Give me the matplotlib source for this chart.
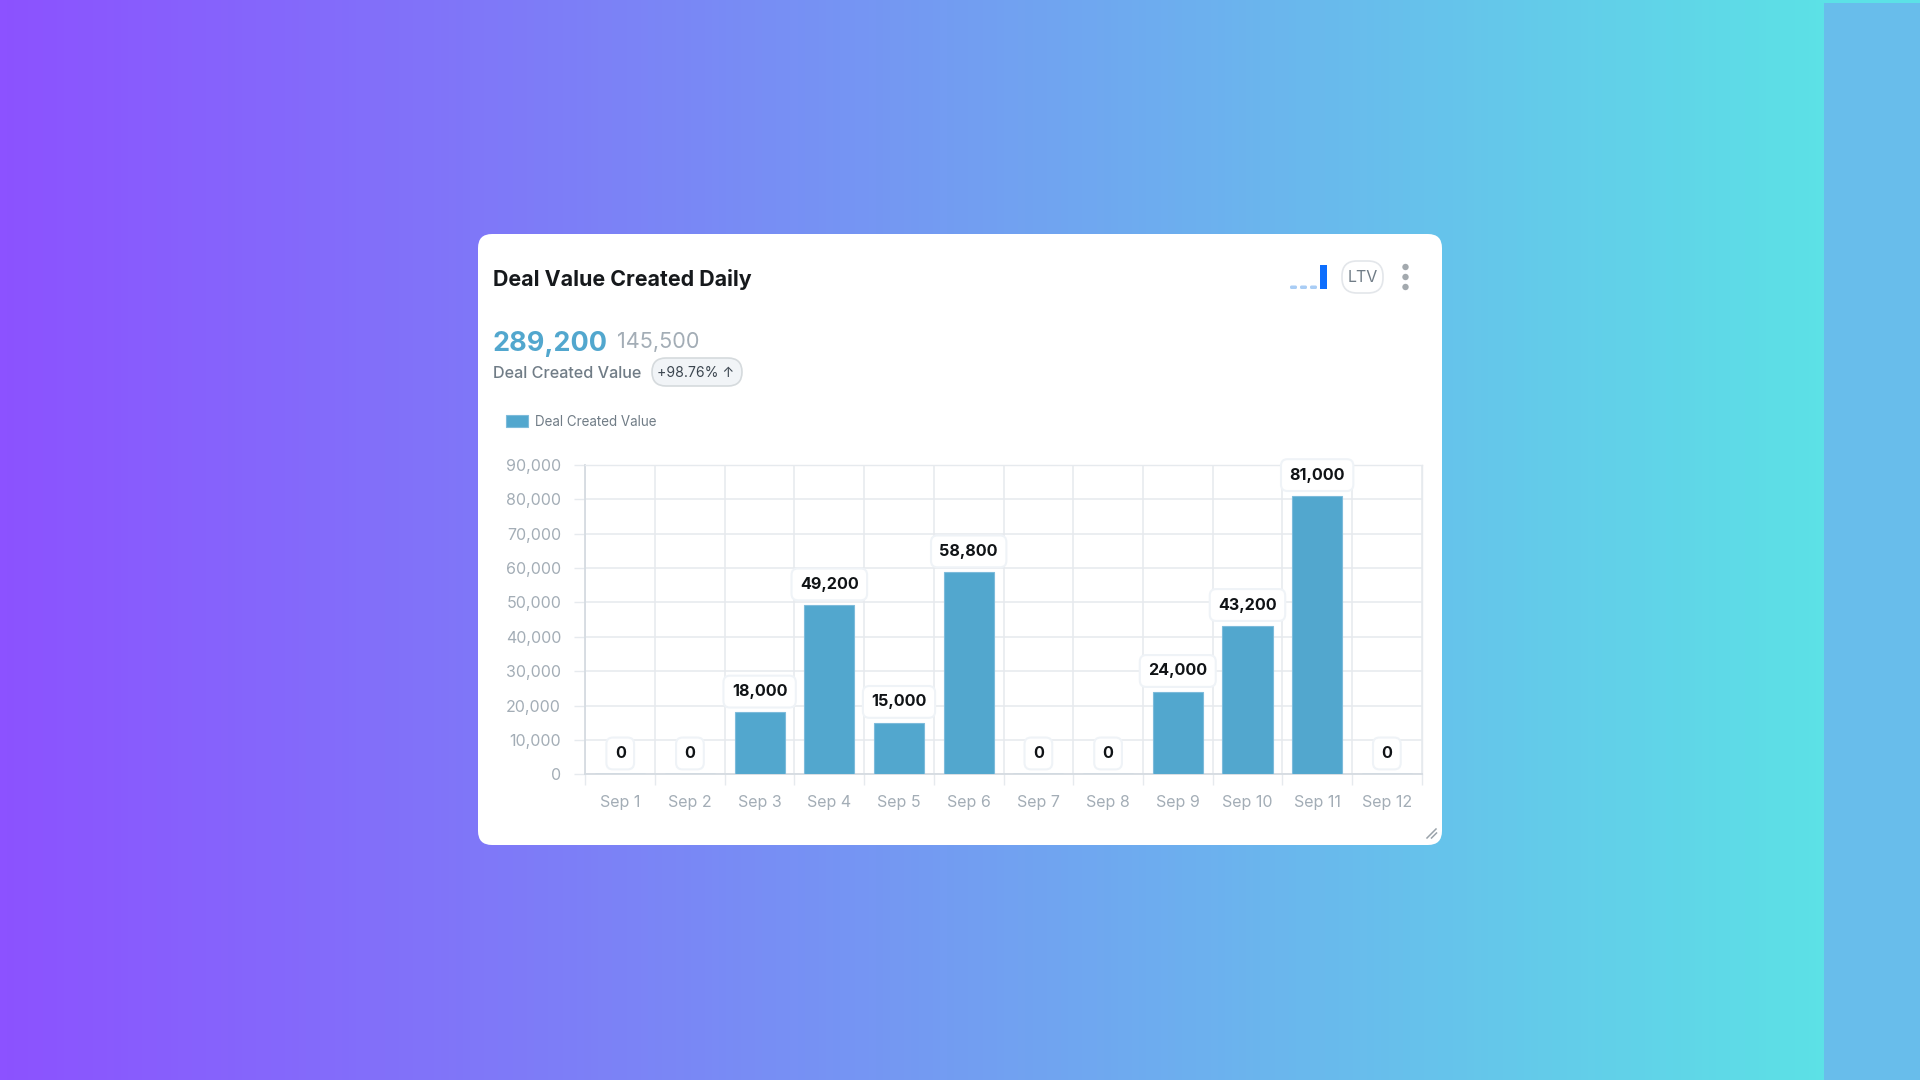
import numpy as np
import matplotlib.pyplot as plt
from matplotlib.colors import LinearSegmentedColormap
from matplotlib.patches import FancyBboxPatch, Rectangle, Circle

plt.rcParams['font.family'] = ['Inter', 'DejaVu Sans']

days = ['Sep 1', 'Sep 2', 'Sep 3', 'Sep 4', 'Sep 5', 'Sep 6',
        'Sep 7', 'Sep 8', 'Sep 9', 'Sep 10', 'Sep 11', 'Sep 12']
deal_values = [0, 0, 18000, 49200, 15000, 58800, 0, 0, 24000, 43200, 81000, 0]
y_ticks = list(range(0, 90001, 10000))

title = 'Deal Value Created Daily'
series_name = 'Deal Created Value'
total_now = '289,200'
total_before = '145,500'
change = '+98.76% ↑'
period = 'LTV'

BAR = '#52A7CE'
GRID = '#E6EAEE'
AXIS = '#D5DBE1'
MUTED = '#A3ADB6'
SLATE = '#707C86'
W, H = 1920, 1080


def px(size):
    # css pixels to points at 100 dpi
    return size * 0.72


fig = plt.figure(figsize=(19.2, 10.8), dpi=100)

# full-figure layer in pixel coordinates for everything around the chart
bg = fig.add_axes([0, 0, 1, 1])
bg.set_xlim(0, W)
bg.set_ylim(H, 0)
bg.axis('off')

cmap = LinearSegmentedColormap.from_list('bg', ['#8C52FF', '#5CE1E6'])
bg.imshow(np.linspace(0, 1, 512).reshape(1, -1), cmap=cmap, aspect='auto',
          extent=(0, 1823, H, 0), zorder=0)
bg.add_patch(Rectangle((1823, 0), W - 1823, H, fc='#5CE1E6', ec='none', zorder=0))
bg.add_patch(Rectangle((1824, 3), W - 1824, H, fc='#68BDEB', ec='none', zorder=1))

# card
bg.add_patch(FancyBboxPatch((478, 234), 964, 611, boxstyle='round,pad=0,rounding_size=14',
                            fc='white', ec='none', zorder=2))

bg.text(493, 279, title, fontsize=px(21.4), fontweight='bold', color='#16191C',
        va='center', zorder=3)
bg.text(493, 344, total_now, fontsize=px(27), fontweight='bold', color=BAR,
        va='center', zorder=3)
bg.text(617, 342.5, total_before, fontsize=px(21.6), color=MUTED, va='center', zorder=3)
bg.text(493, 373.5, series_name, fontsize=px(16.2), fontweight='medium', color=SLATE,
        va='center', zorder=3)

# change pill
bg.add_patch(FancyBboxPatch((652, 358), 90, 28, boxstyle='round,pad=0,rounding_size=14',
                            fc='#F1F4F7', ec='#D5DADD', lw=1.2, zorder=3))
bg.text(696, 373, change, fontsize=px(14), color='#3C4650', ha='center', va='center', zorder=4)

# mini bars, period pill and menu dots
for x0 in [1290, 1300, 1310]:
    bg.add_patch(FancyBboxPatch((x0, 285.5), 7, 3.5, boxstyle='round,pad=0,rounding_size=1.5',
                                fc='#A9CDF5', ec='none', zorder=3))
bg.add_patch(Rectangle((1320, 264.5), 6.5, 24.5, fc='#0D6EFD', ec='none', zorder=3))
bg.add_patch(FancyBboxPatch((1342, 261), 41, 32, boxstyle='round,pad=0,rounding_size=15',
                            fc='white', ec='#E3E6EA', lw=1.2, zorder=3))
bg.text(1362.5, 277.5, period, fontsize=px(16), color=SLATE, ha='center', va='center', zorder=4)
for yc in [267, 277, 287]:
    bg.add_patch(Circle((1405.5, yc), 3.2, fc='#A3A9AE', ec='none', zorder=3))

# resize handle
bg.plot([1427, 1436], [838, 829], color='#9AA3AA', lw=1.1, zorder=3)
bg.plot([1431.5, 1436.5], [838, 833], color='#9AA3AA', lw=1.1, zorder=3)

# chart axes placed inside the card
left, right, top, bottom = 585.4, 1421.7, 465, 774.3
ax = fig.add_axes([left / W, 1 - bottom / H, (right - left) / W, (bottom - top) / H])
ax.patch.set_alpha(0)
ax.bar(range(len(days)), deal_values, width=0.72, color=BAR, edgecolor='#7DBBDB',
       linewidth=0.8, label=series_name, zorder=3)
ax.set_xlim(-0.5, len(days) - 0.5)
ax.set_ylim(0, 90000)

ax.set_yticks(y_ticks)
ax.set_yticklabels([f'{v:,}' for v in y_ticks])
ax.set_xticks(np.arange(len(days) + 1) - 0.5)
ax.set_xticklabels([])
ax.set_xticks(range(len(days)), days, minor=True)
ax.grid(True, color=GRID, lw=1.1, zorder=0)
ax.set_axisbelow(True)
ax.tick_params(axis='y', length=8, width=1.0, color=GRID, labelsize=px(16), labelcolor=MUTED, pad=9.5)
ax.tick_params(axis='x', which='major', length=8, width=1.0, color=GRID)
ax.tick_params(axis='x', which='minor', length=0, labelsize=px(16), labelcolor=MUTED, pad=15)

for side in ['top', 'right']:
    ax.spines[side].set_color(GRID)
    ax.spines[side].set_linewidth(1.0)
for side in ['left', 'bottom']:
    ax.spines[side].set_color(AXIS)
    ax.spines[side].set_linewidth(1.3)

for i, v in enumerate(deal_values):
    ax.annotate(f'{v:,}', (i, v), xytext=(0, 15), textcoords='offset points',
                ha='center', va='center', fontsize=px(16.2), fontweight='bold',
                color='#101316', zorder=5, annotation_clip=False,
                bbox=dict(boxstyle='round,pad=0.52,rounding_size=0.4', fc='white',
                          ec='#EFF3F7', lw=1.5))

ax.legend(loc='upper left', bbox_to_anchor=(505.7 / W, 1 - 414.5 / H),
          bbox_transform=fig.transFigure, frameon=False, borderpad=0, borderaxespad=0,
          handlelength=1.7, handleheight=1.0, handletextpad=0.5,
          labelcolor=SLATE, prop={'size': px(13.4)})

fig.savefig('out.png', dpi=100)
